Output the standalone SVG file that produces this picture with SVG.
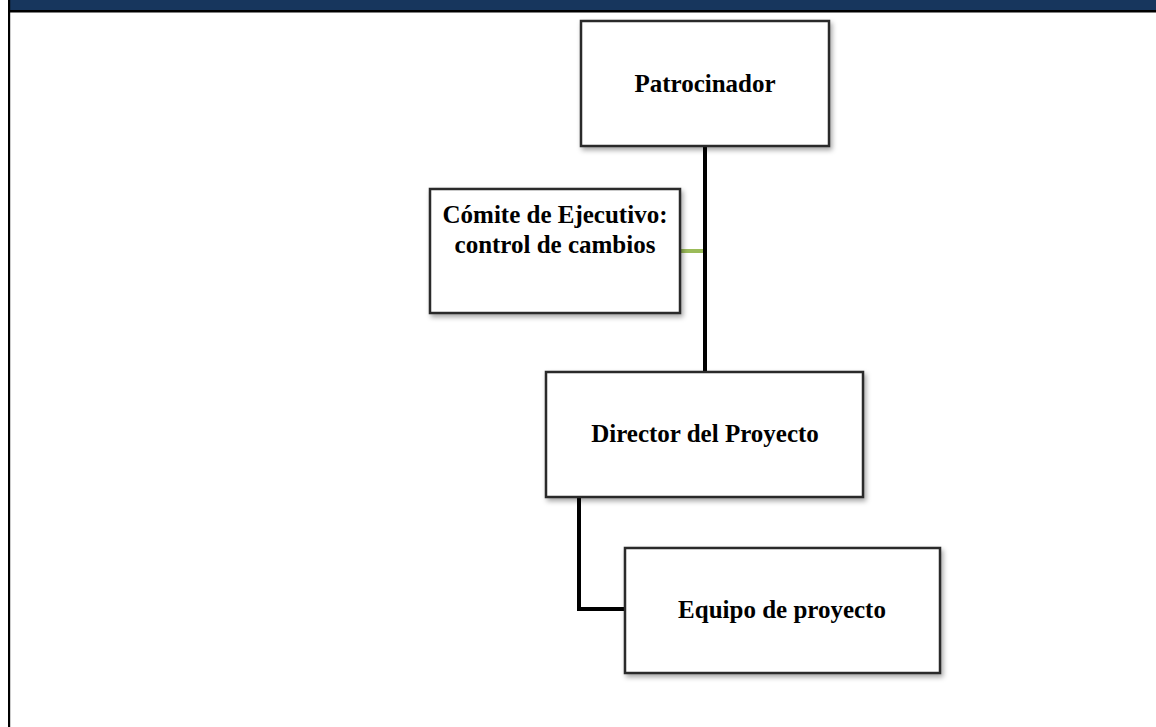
<svg xmlns="http://www.w3.org/2000/svg" width="1156" height="727" viewBox="0 0 1156 727">
<style>
.box{fill:#ffffff;stroke:#2b2b2b;stroke-width:2.5;filter:url(#sh)}
.lbl{font-family:"Liberation Serif","Times New Roman",serif;font-weight:bold;font-size:25px;fill:#000;text-anchor:middle}
.con{fill:none;stroke:#000;stroke-width:4}
</style>
<defs>
<filter id="sh" x="-10%" y="-10%" width="125%" height="130%">
<feDropShadow dx="2" dy="3" stdDeviation="2.5" flood-color="#000" flood-opacity="0.35"/>
</filter>
</defs>
<rect width="1156" height="727" fill="#ffffff"/>
<g id="frame">
<rect x="10" y="0" width="1146" height="10" fill="#17365d"/>
<rect x="8" y="10" width="1148" height="2.5" fill="#000"/>
<rect x="8" y="0" width="2.2" height="727" fill="#000"/>
</g>
<g id="connectors">
<line class="con" x1="705" y1="146" x2="705" y2="372"/>
<line x1="680" y1="251" x2="703" y2="251" stroke="#9bbb59" stroke-width="4"/>
<polyline class="con" points="579,497 579,609 625,609"/>
</g>
<g id="patrocinador">
<rect class="box" x="581" y="21" width="248" height="125"/>
<text class="lbl" x="705" y="92">Patrocinador</text>
</g>
<g id="comite">
<rect class="box" x="430" y="189" width="250" height="124"/>
<text class="lbl" x="555" y="223">Cómite de Ejecutivo:</text>
<text class="lbl" x="555" y="253">control de cambios</text>
</g>
<g id="director">
<rect class="box" x="546" y="372" width="317" height="125"/>
<text class="lbl" x="705" y="442">Director del Proyecto</text>
</g>
<g id="equipo">
<rect class="box" x="625" y="548" width="315" height="125"/>
<text class="lbl" x="782" y="618">Equipo de proyecto</text>
</g>
</svg>
